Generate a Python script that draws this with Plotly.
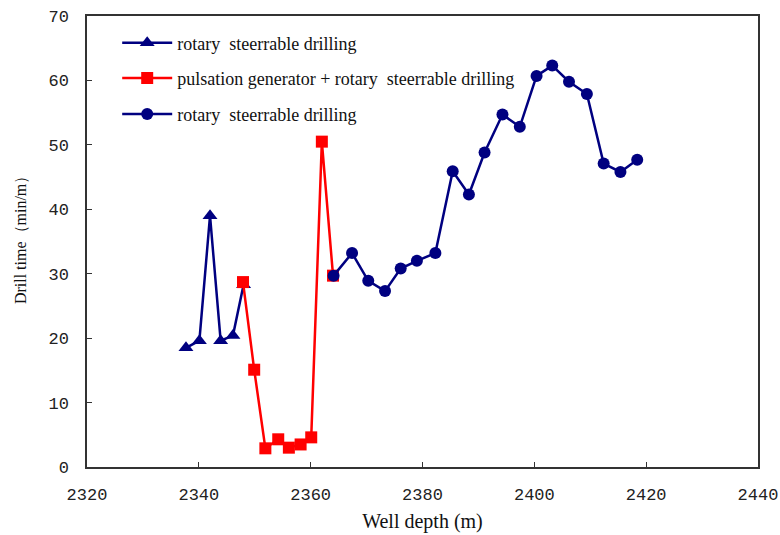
import plotly.graph_objects as go

# Series 1: rotary steerable drilling (triangles)
rsd1_depth = [2337.7, 2340.1, 2342.0, 2343.9, 2346.1, 2348.0]
rsd1_time = [18.5, 19.6, 39.0, 19.6, 20.4, 28.3]

# Series 2: pulsation generator + rotary steerable drilling (squares)
pg_depth = [2347.9, 2349.9, 2351.9, 2354.2, 2356.1, 2358.2, 2360.1, 2362.0, 2364.0]
pg_time = [28.7, 15.1, 2.9, 4.3, 3.0, 3.5, 4.6, 50.5, 29.7]

# Series 3: rotary steerable drilling (circles)
rsd2_depth = [2364.1, 2367.4, 2370.3, 2373.3, 2376.1, 2379.0, 2382.3, 2385.4, 2388.3,
              2391.1, 2394.3, 2397.4, 2400.4, 2403.2, 2406.2, 2409.4, 2412.4, 2415.4, 2418.4]
rsd2_time = [29.7, 33.2, 28.9, 27.3, 30.8, 32.0, 33.2, 45.9, 42.3,
             48.8, 54.7, 52.8, 60.7, 62.3, 59.8, 57.9, 47.1, 45.8, 47.7]

x_ticks = [2320, 2340, 2360, 2380, 2400, 2420, 2440]
y_ticks = [0, 10, 20, 30, 40, 50, 60, 70]

names = ["rotary\u00a0 steerrable drilling",
         "pulsation generator + rotary\u00a0 steerrable drilling",
         "rotary\u00a0 steerrable drilling"]

NAVY = "#000080"
RED = "#ff0000"
SERIF = "Liberation Serif, Times New Roman, serif"
MONO = "Liberation Mono, DejaVu Sans Mono, monospace"

fig = go.Figure()
fig.add_trace(go.Scatter(x=rsd1_depth, y=rsd1_time, mode="lines+markers", name=names[0],
                         line=dict(color=NAVY, width=2.5),
                         marker=dict(symbol="triangle-up", size=13, color=NAVY),
                         legend="legend"))
fig.add_trace(go.Scatter(x=pg_depth, y=pg_time, mode="lines+markers", name=names[1],
                         line=dict(color=RED, width=2.5),
                         marker=dict(symbol="square", size=12, color=RED),
                         legend="legend2"))
fig.add_trace(go.Scatter(x=rsd2_depth, y=rsd2_time, mode="lines+markers", name=names[2],
                         line=dict(color=NAVY, width=2.5),
                         marker=dict(symbol="circle", size=12, color=NAVY),
                         legend="legend3"))

leg_common = dict(xanchor="left", yanchor="middle", bgcolor="rgba(0,0,0,0)",
                  font=dict(family=SERIF, size=18, color="#111"), itemwidth=50)

fig.update_layout(
    width=780, height=535,
    margin=dict(l=87, r=22, t=16, b=68, autoexpand=False),
    paper_bgcolor="white", plot_bgcolor="white",
    showlegend=True,
    legend=dict(x=0.045, y=0.94, **leg_common),
    legend2=dict(x=0.045, y=0.862, **leg_common),
    legend3=dict(x=0.045, y=0.782, **leg_common),
    xaxis=dict(range=[2320, 2440], tickvals=x_ticks, ticktext=[str(v) for v in x_ticks],
               ticks="inside", ticklen=5, tickcolor="#333", showgrid=False, zeroline=False,
               showline=True, linecolor="#333", linewidth=1.5, mirror=True,
               ticklabelstandoff=11, automargin=False,
               tickfont=dict(family=MONO, size=17, color="#222"),
               title=dict(text="Well depth (m)", font=dict(family=SERIF, size=20, color="#111"),
                          standoff=10)),
    yaxis=dict(range=[0, 70], tickvals=y_ticks, ticktext=[str(v) for v in y_ticks],
               ticks="inside", ticklen=5, tickcolor="#333", showgrid=False, zeroline=False,
               showline=True, linecolor="#333", linewidth=1.5, mirror=True,
               ticklabelstandoff=13, automargin=False,
               tickfont=dict(family=MONO, size=17, color="#222")),
    annotations=[dict(text="Drill time（min/m）", xref="paper", yref="paper",
                      x=-0.0998, y=0.512, xanchor="center", yanchor="middle",
                      textangle=-90, showarrow=False,
                      font=dict(family=SERIF, size=16, color="#111"))],
)

fig.write_html("out.html", config={"displayModeBar": False},
               post_script="document.body.style.margin='0';document.body.style.overflow='hidden';")
